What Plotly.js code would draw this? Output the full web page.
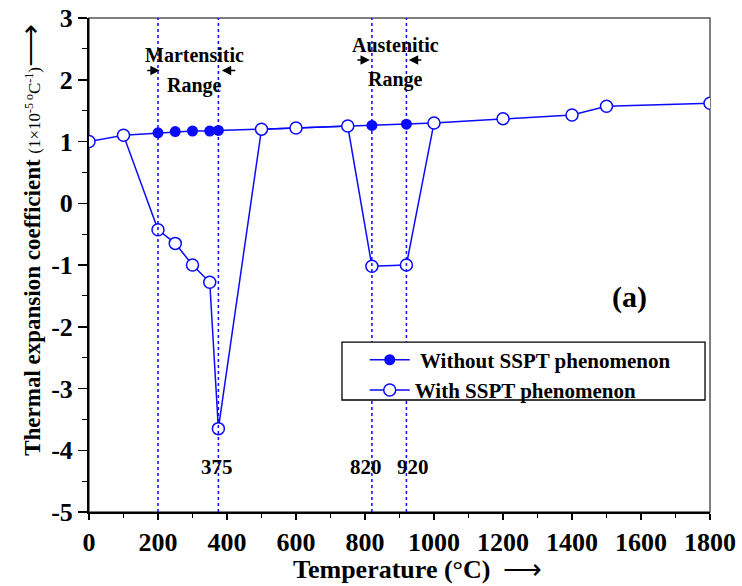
<!DOCTYPE html>
<html>
<head>
<meta charset="utf-8">
<script src="https://cdn.plot.ly/plotly-3.0.1.min.js"></script>
<style>html,body{margin:0;padding:0;background:#fff;}#chart{width:742px;height:586px;}</style>
</head>
<body>
<div id="chart"></div>
<script>
// With SSPT phenomenon (open circles)
const tempWith = [0, 100, 200, 250, 300, 350, 375, 500, 600, 750, 820, 920, 1000, 1200, 1400, 1500, 1800];
const coefWith = [1.0, 1.1, -0.43, -0.65, -1.0, -1.28, -3.65, 1.2, 1.22, 1.25, -1.02, -1.0, 1.3, 1.37, 1.43, 1.57, 1.62];
// Without SSPT phenomenon (filled circles; points at 100, 500-750, 1000 lie under open circles)
const tempWithout = [100, 200, 250, 300, 350, 375, 500, 600, 750, 820, 920, 1000];
const coefWithout = [1.1, 1.14, 1.16, 1.17, 1.17, 1.18, 1.2, 1.22, 1.25, 1.26, 1.28, 1.3];
const transitionTemps = [200, 375, 820, 920];
const xTickVals = [0, 200, 400, 600, 800, 1000, 1200, 1400, 1600, 1800];
const yTickVals = [-5, -4, -3, -2, -1, 0, 1, 2, 3];

const blue = '#0a0aff';
const serif = 'Liberation Serif, Times New Roman, serif';

const withoutTrace = {
  x: tempWithout, y: coefWithout, type: 'scatter', mode: 'lines+markers',
  name: '\u00a0Without SSPT phenomenon',
  line: {color: blue, width: 1.5},
  marker: {symbol: 'circle', size: 11, color: blue, line: {width: 0}}
};
const withTrace = {
  x: tempWith, y: coefWith, type: 'scatter', mode: 'lines+markers',
  name: 'With SSPT phenomenon',
  line: {color: blue, width: 1.5},
  marker: {symbol: 'circle', size: 12, color: '#ffffff', line: {color: blue, width: 1.5}}
};

const shapes = transitionTemps.map(t => ({
  type: 'line', xref: 'x', yref: 'paper', x0: t, x1: t, y0: 0, y1: 1,
  line: {color: blue, width: 1.5, dash: 'dot'}, layer: 'above'
}));
shapes.push({type: 'rect', xref: 'paper', yref: 'paper', x0: 0, x1: 1, y0: 0, y1: 1,
  line: {color: '#555555', width: 1.5}, layer: 'below'});
// legend box
shapes.push({type: 'rect', xref: 'paper', yref: 'paper', x0: 0.4074, x1: 0.992, y0: 0.2267, y1: 0.344,
  line: {color: '#000', width: 1.3}, fillcolor: '#ffffff', layer: 'above'});

function txt(x, y, text, size) {
  return {x: x, y: y, xref: 'x', yref: 'y', text: '<b>' + text + '</b>', showarrow: false,
    font: {family: serif, size: size, color: '#000'}, xanchor: 'center', yanchor: 'middle'};
}
function arr(x, y, ax) {
  return {x: x, y: y, xref: 'x', yref: 'y', ax: ax, ay: 0, text: '', showarrow: true,
    arrowhead: 2, arrowsize: 1.1, arrowwidth: 1.7, arrowcolor: '#000'};
}

const annotations = [
  txt(307, 2.40, 'Martensitic', 20),
  txt(307, 1.915, 'Range', 20),
  txt(887, 2.56, 'Austenitic', 20),
  txt(887, 2.0, 'Range', 20),
  txt(372, -4.27, '375', 21),
  txt(803, -4.27, '820', 21),
  txt(939, -4.27, '920', 21),
  txt(1568, -1.52, '(a)', 30),
  arr(205, 2.15, -14),
  arr(385, 2.15, 15),
  arr(814, 2.32, -14),
  arr(927, 2.32, 14),
  {xref: 'paper', yref: 'paper', x: 0.529, y: -0.115, xanchor: 'center', yanchor: 'middle', showarrow: false,
    text: '<b>Temperature (°C)</b>  <span style="font-size:27px">⟶</span>', font: {family: serif, size: 26, color: '#000'}},
  {xref: 'paper', yref: 'paper', x: -0.095, y: 0.551, xanchor: 'center', yanchor: 'middle', showarrow: false, textangle: -90,
    text: '<b>Thermal expansion coefficient</b> <span style="font-size:17px">(1×10<sup>-5 o</sup>C<sup>-1</sup>)</span><span style="font-size:30px">⟶</span>',
    font: {family: serif, size: 23, color: '#000'}}
];

const layout = {
  width: 742, height: 586,
  margin: {l: 89, r: 32, t: 18, b: 74},
  paper_bgcolor: '#fff', plot_bgcolor: '#fff',
  font: {family: serif, color: '#000'},
  showlegend: true,
  legend: {
    x: 0.444, y: 0.349, xanchor: 'left', yanchor: 'top',
    borderwidth: 0, bgcolor: 'rgba(0,0,0,0)',
    font: {family: serif, size: 21, color: '#000', weight: 'bold'},
    itemwidth: 40, tracegroupgap: 0
  },
  xaxis: {
    range: [0, 1800], tickvals: xTickVals, ticktext: xTickVals.map(v => '<b>' + v + '</b>'),
    showgrid: false, zeroline: false,
    showline: true, linecolor: '#000', linewidth: 2,
    ticks: 'outside', ticklen: 6, tickwidth: 1.5, tickcolor: '#000',
    minor: {dtick: 100, ticks: 'outside', ticklen: 4, tickwidth: 1.2, tickcolor: '#000'},
    tickfont: {family: serif, size: 26, color: '#000'}
  },
  yaxis: {
    range: [-5, 3], tickvals: yTickVals, ticktext: yTickVals.map(v => '<b>' + v + '</b>'),
    showgrid: false, zeroline: false,
    showline: true, linecolor: '#000', linewidth: 2,
    ticks: 'outside', ticklen: 9, tickwidth: 1.5, tickcolor: '#000',
    minor: {dtick: 0.5, ticks: 'outside', ticklen: 5, tickwidth: 1.2, tickcolor: '#000'},
    tickfont: {family: serif, size: 26, color: '#000'}
  },
  shapes: shapes,
  annotations: annotations
};

Plotly.newPlot('chart', [withoutTrace, withTrace], layout, {displayModeBar: false, staticPlot: true});
</script>
</body>
</html>
